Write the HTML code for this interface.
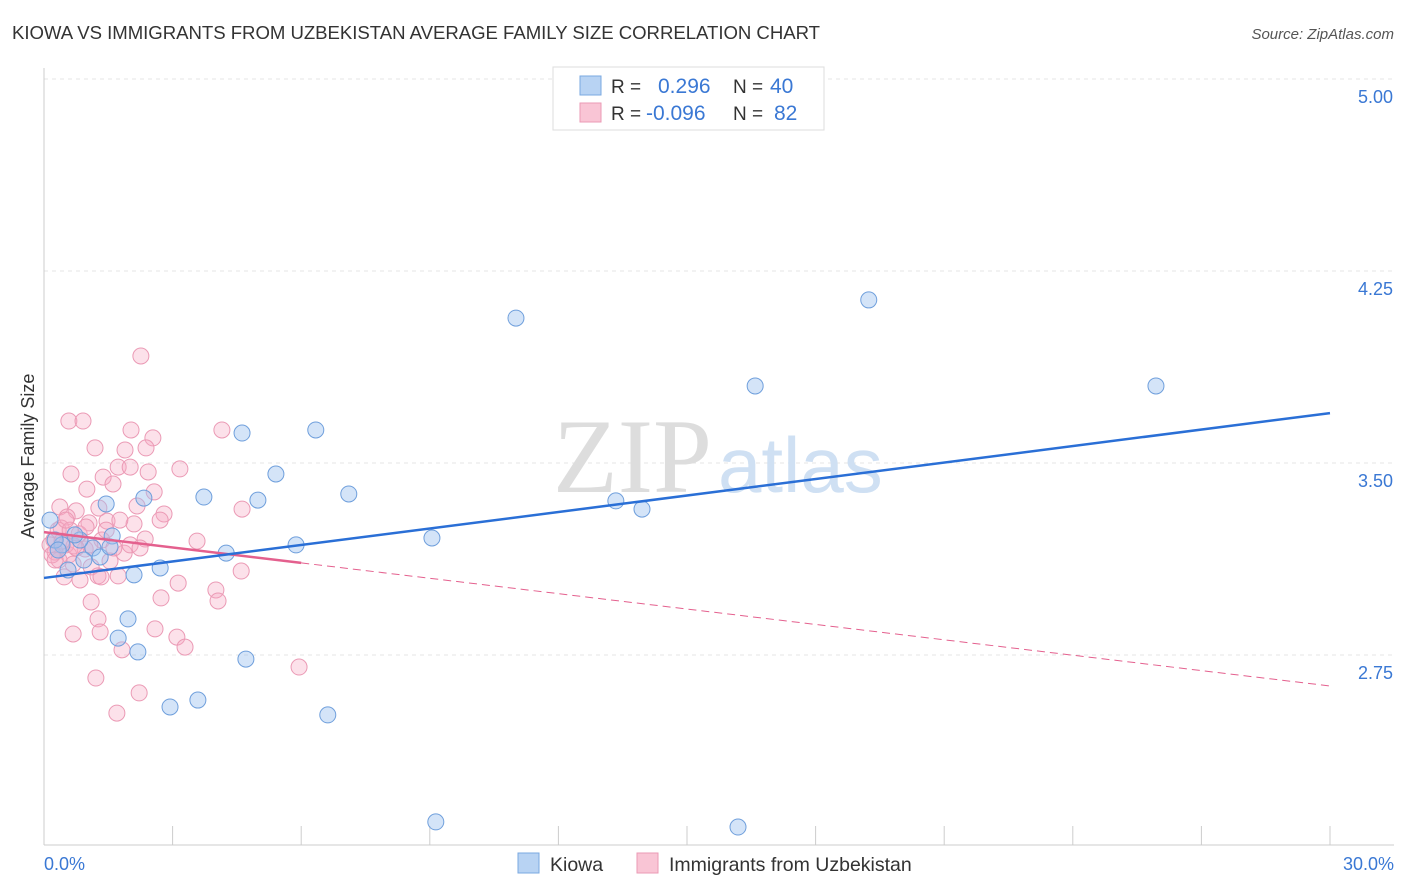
<!DOCTYPE html>
<html><head><meta charset="utf-8"><style>
body{margin:0;background:#fff;font-family:"Liberation Sans",sans-serif;}
svg{display:block}
</style></head><body>
<svg id="chart" width="1406" height="892" xmlns="http://www.w3.org/2000/svg">
<text x="12" y="39" font-size="18.6" fill="#333" textLength="808">KIOWA VS IMMIGRANTS FROM UZBEKISTAN AVERAGE FAMILY SIZE CORRELATION CHART</text>
<text x="1394" y="39" font-size="15" fill="#555" font-style="italic" text-anchor="end">Source: ZipAtlas.com</text>
<g id="grid"></g>
<text x="712" y="492" font-size="106" font-family="Liberation Serif,serif" fill="#ddd" text-anchor="end">ZIP</text>
<text x="718" y="492" font-size="78" fill="#cfe0f3">atlas</text>
<g id="marks"></g>
<text transform="translate(34,456) rotate(-90)" font-size="18" fill="#333" text-anchor="middle">Average Family Size</text>
<text x="44" y="870" font-size="18" fill="#3a78d4">0.0%</text>
<text x="1394" y="870" font-size="18" fill="#3a78d4" text-anchor="end">30.0%</text>
<g>
<rect x="553" y="67" width="271" height="63" fill="#fff" stroke="#ddd"/>
<rect x="580" y="76" width="21" height="19" fill="#b8d3f3" stroke="#7aa8e0"/>
<rect x="580" y="103" width="21" height="19" fill="#f9c5d5" stroke="#eb9ab5"/>
<text x="611" y="93" font-size="19" fill="#333">R = <tspan fill="#3a78d4" x="658" font-size="21">0.296</tspan><tspan x="733">N = </tspan><tspan fill="#3a78d4" x="770" font-size="21">40</tspan></text>
<text x="611" y="120" font-size="19" fill="#333">R = <tspan fill="#3a78d4" x="646" font-size="21">-0.096</tspan><tspan x="733">N = </tspan><tspan fill="#3a78d4" x="774" font-size="21">82</tspan></text>
</g>
<g>
<rect x="518" y="853" width="21" height="20" fill="#b8d3f3" stroke="#7aa8e0"/>
<text x="550" y="871" font-size="19.5" fill="#333">Kiowa</text>
<rect x="637" y="853" width="21" height="20" fill="#f9c5d5" stroke="#eb9ab5"/>
<text x="669" y="871" font-size="19.5" fill="#333">Immigrants from Uzbekistan</text>
</g>
</svg>
<script>
const yTicks=[5.00,4.25,3.50,2.75];
const xTickVals=[0,3,6,9,12,15,18,21,24,27,30];
const blueX=[11.01,19.24,16.59,25.94,4.62,6.34,5.41,3.73,4.99,7.11,13.34,13.95,9.05,5.88,4.25,2.71,2.10,2.33,1.45,1.59,1.14,1.31,0.84,0.42,0.14,0.26,1.96,1.73,2.19,4.71,2.94,3.59,6.62,9.14,16.19,0.56,0.93,1.54,0.72,0.33];
const blueY=[4.066,4.137,3.801,3.801,3.617,3.629,3.457,3.367,3.355,3.379,3.352,3.320,3.207,3.180,3.148,3.090,3.063,3.363,3.340,3.215,3.168,3.133,3.199,3.180,3.277,3.199,2.891,2.816,2.762,2.734,2.547,2.574,2.516,2.098,2.078,3.082,3.121,3.172,3.219,3.160];
const pinkX=[2.26,0.58,0.91,1.19,1.89,2.54,2.03,4.15,2.38,3.17,0.63,1.38,1.73,2.01,2.43,1.00,1.61,2.57,0.37,0.75,1.28,2.17,2.80,4.62,0.54,1.05,1.47,2.10,0.40,0.82,1.35,2.36,3.57,1.87,0.26,0.58,0.96,1.63,2.01,0.68,1.10,0.35,0.47,0.84,1.26,1.73,1.33,3.13,4.60,4.01,2.73,4.06,1.10,1.26,0.68,1.31,2.59,3.10,3.29,1.82,5.95,1.21,2.22,1.70,0.23,0.14,0.33,0.51,0.70,0.98,0.19,0.42,1.54,2.24,2.71,1.07,0.75,1.45,1.77,0.61,0.51,0.26];
const pinkY=[3.918,3.664,3.664,3.559,3.551,3.598,3.629,3.629,3.559,3.477,3.457,3.445,3.484,3.484,3.465,3.398,3.418,3.387,3.328,3.313,3.324,3.332,3.301,3.320,3.289,3.266,3.273,3.262,3.246,3.223,3.199,3.203,3.195,3.148,3.152,3.141,3.164,3.168,3.180,3.105,3.094,3.121,3.055,3.043,3.059,3.059,3.055,3.031,3.078,3.004,2.973,2.961,2.957,2.891,2.832,2.840,2.852,2.820,2.781,2.770,2.703,2.660,2.602,2.523,3.199,3.180,3.238,3.180,3.176,3.250,3.141,3.195,3.117,3.168,3.277,3.180,3.168,3.238,3.277,3.238,3.277,3.121];
const blueTrend=[3.051,3.695];
const pinkTrend=[3.230,2.629];
const pinkSolidEnd=6;

const NS="http://www.w3.org/2000/svg";
const X=v=>44+v*(1330-44)/30;
const Y=v=>79+(5-v)*256;
function mk(tag,attrs,parent){const e=document.createElementNS(NS,tag);for(const k in attrs)e.setAttribute(k,attrs[k]);parent.appendChild(e);return e;}
const grid=document.getElementById('grid');
yTicks.forEach(t=>{
 const l=mk('line',{x1:44,x2:1394,y1:Y(t),y2:Y(t),stroke:'#e4e4e4','stroke-dasharray':'4,4'},grid);
 
 
 const tx=mk('text',{x:1393,y:Y(t)+24,'font-size':18,fill:'#3a78d4','text-anchor':'end'},grid);
 tx.textContent=t.toFixed(2);
 
 
});
const ax=mk('line',{x1:44,x2:1394,y1:845,y2:845,stroke:'#ccc'},grid);


const ay=mk('line',{x1:44,x2:44,y1:68,y2:845,stroke:'#ccc'},grid);


xTickVals.forEach(t=>{
 const l=mk('line',{x1:X(t),x2:X(t),y1:826,y2:845,stroke:'#ccc'},grid);
 
 
});
const marks=document.getElementById('marks');
pinkX.forEach((x,i)=>{
 const c=mk('circle',{cx:X(x),cy:Y(pinkY[i]),r:8,fill:'rgba(245,170,195,0.35)',stroke:'#eb9ab5','stroke-width':1},marks);
 
 
});
blueX.forEach((x,i)=>{
 const c=mk('circle',{cx:X(x),cy:Y(blueY[i]),r:8,fill:'rgba(160,195,240,0.45)',stroke:'#6f9fdc','stroke-width':1},marks);
 
 
});
const pAt=v=>pinkTrend[0]+(pinkTrend[1]-pinkTrend[0])*v/30;
const pd=mk('line',{x1:X(pinkSolidEnd),y1:Y(pAt(pinkSolidEnd)),x2:X(30),y2:Y(pinkTrend[1]),stroke:'#e4608e','stroke-width':1,'stroke-dasharray':'8,5'},marks);


const ps=mk('line',{x1:X(0),y1:Y(pinkTrend[0]),x2:X(pinkSolidEnd),y2:Y(pAt(pinkSolidEnd)),stroke:'#e4608e','stroke-width':2.5},marks);


const bl=mk('line',{x1:X(0),y1:Y(blueTrend[0]),x2:X(30),y2:Y(blueTrend[1]),stroke:'#2a6fd6','stroke-width':2.5},marks);


</script>
</body></html>
